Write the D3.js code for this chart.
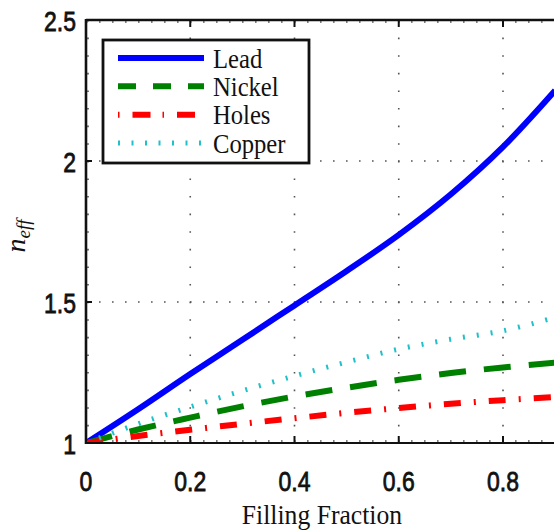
<!DOCTYPE html>
<html>
<head>
<meta charset="utf-8">
<script src="https://cdn.jsdelivr.net/npm/d3@7"></script>
<style>
body { margin: 0; background: #fff; }
svg { display: block; }
</style>
</head>
<body>
<div></div>
<script>
var width = 554;
var height = 531;

// filling fraction and effective index
var fill = [0, 0.1, 0.2, 0.3, 0.4, 0.5, 0.6, 0.7, 0.8, 0.9];
var lead = [1, 1.12, 1.245, 1.366, 1.488, 1.61, 1.738, 1.882, 2.05, 2.25];
var nickel = [1, 1.048, 1.09, 1.13, 1.165, 1.196, 1.224, 1.248, 1.268, 1.285];
var holes = [1, 1.025, 1.047, 1.068, 1.088, 1.107, 1.124, 1.139, 1.152, 1.163];
var copper = [1, 1.068, 1.128, 1.185, 1.238, 1.287, 1.333, 1.368, 1.398, 1.445];

var seriesNames = ["Lead", "Nickel", "Holes", "Copper"];
var seriesValues = [lead, nickel, holes, copper];
var xTicks = [0, 0.2, 0.4, 0.6, 0.8, 1];
var yTicks = [1, 1.5, 2, 2.5];

var styles = [
    { color: "#0000ff", w: 6, dash: null, legendDash: null },
    { color: "#008000", w: 6, dash: "27,18", legendDash: "18,17" },
    { color: "#ff0000", w: 6, dash: "17,13,2,13", legendDash: "1.5,13,18,12" },
    { color: "#20c0c8", w: 5, dash: "2,12", legendDash: "2,11.5" }
];

// note: "top" is a reserved window property, so use other names
var plotLeft = 86, plotTop = 20, plotBottom = 443;
var x = d3.scaleLinear().domain([0, 1]).range([plotLeft, plotLeft + 521.25]);
var y = d3.scaleLinear().domain([1, 2.5]).range([plotBottom, plotTop]);

var svg = d3.select("div")
    .append("svg")
    .attr("width", width)
    .attr("height", height);

svg.append("clipPath").attr("id", "plot")
    .append("rect")
    .attr("x", plotLeft).attr("y", plotTop)
    .attr("width", width - plotLeft).attr("height", plotBottom - plotTop);

// dotted grid
var grid = svg.append("g").attr("stroke", "#555").attr("stroke-width", 1.6);
xTicks.forEach(function (t) {
    var px = t === 0 ? x(t) + 2 : x(t);
    grid.append("line")
        .attr("x1", px).attr("x2", px)
        .attr("y1", plotTop).attr("y2", plotBottom)
        .attr("stroke-dasharray", "1.6,16");
});
yTicks.forEach(function (t) {
    var py = t === 2.5 ? y(t) + 2 : (t === 1 ? y(t) - 2 : y(t));
    grid.append("line")
        .attr("x1", plotLeft).attr("x2", width)
        .attr("y1", py).attr("y2", py)
        .attr("stroke-dasharray", "1.6,11.4");
});

// curves
var line = d3.line()
    .x(function (d, i) { return x(fill[i]); })
    .y(function (d) { return y(d); })
    .curve(d3.curveCatmullRom);

var curves = svg.append("g").attr("clip-path", "url(#plot)");
seriesValues.forEach(function (vals, i) {
    var s = styles[i];
    var p = curves.append("path")
        .attr("d", line(vals))
        .attr("fill", "none")
        .attr("stroke", s.color)
        .attr("stroke-width", s.w);
    if (s.dash) p.attr("stroke-dasharray", s.dash);
});

// axes box
var axes = svg.append("g").attr("stroke", "#111").attr("fill", "none");
axes.append("line").attr("x1", plotLeft).attr("x2", width).attr("y1", plotTop).attr("y2", plotTop).attr("stroke-width", 2.6);
axes.append("line").attr("x1", plotLeft).attr("x2", width).attr("y1", plotBottom).attr("y2", plotBottom).attr("stroke-width", 2.2);
axes.append("line").attr("x1", plotLeft).attr("x2", plotLeft).attr("y1", plotTop - 1).attr("y2", plotBottom + 1).attr("stroke-width", 2.6);

xTicks.forEach(function (t) {
    axes.append("line").attr("x1", x(t)).attr("x2", x(t)).attr("y1", plotBottom).attr("y2", plotBottom - 7).attr("stroke-width", 2);
    axes.append("line").attr("x1", x(t)).attr("x2", x(t)).attr("y1", plotTop).attr("y2", plotTop + 7).attr("stroke-width", 2);
});
yTicks.forEach(function (t) {
    axes.append("line").attr("x1", plotLeft).attr("x2", plotLeft + 6).attr("y1", y(t)).attr("y2", y(t)).attr("stroke-width", 2);
});

// tick labels
var tickFont = "'Liberation Sans', Arial, sans-serif";
svg.append("g").selectAll("text")
    .data(xTicks.filter(function (t) { return x(t) < width; }))
    .join("text")
    .attr("transform", function (d) { return "translate(" + x(d) + ",491) scale(0.82,1)"; })
    .attr("text-anchor", "middle")
    .attr("font-family", tickFont)
    .attr("font-size", 28)
    .attr("fill", "#111")
    .attr("stroke", "#111").attr("stroke-width", 0.8)
    .text(function (d) { return d3.format("")(d); });

svg.append("g").selectAll("text")
    .data(yTicks)
    .join("text")
    .attr("transform", function (d) { return "translate(76," + (y(d) + 11) + ") scale(0.82,1)"; })
    .attr("text-anchor", "end")
    .attr("font-family", tickFont)
    .attr("font-size", 28)
    .attr("fill", "#111")
    .attr("stroke", "#111").attr("stroke-width", 0.8)
    .text(function (d) { return d3.format("")(d); });

// axis titles
var serif = "'Liberation Serif', 'DejaVu Serif', serif";
svg.append("text")
    .attr("transform", "translate(322,524) scale(0.95,1)")
    .attr("text-anchor", "middle")
    .attr("font-family", serif)
    .attr("font-size", 27)
    .attr("fill", "#111")
    .text("Filling Fraction");

var yl = svg.append("text")
    .attr("transform", "translate(25,236) rotate(-90)")
    .attr("text-anchor", "middle")
    .attr("font-family", serif)
    .attr("font-style", "italic")
    .attr("fill", "#111");
yl.append("tspan").attr("font-size", 28).text("n");
yl.append("tspan").attr("font-size", 19).attr("dy", 5).text("eff");

// legend
var legend = svg.append("g");
legend.append("rect")
    .attr("x", 103).attr("y", 40)
    .attr("width", 206).attr("height", 123)
    .attr("fill", "#fff")
    .attr("stroke", "#111")
    .attr("stroke-width", 2.8);

var rowY = d3.scalePoint().domain(seriesNames).range([58, 143]);
seriesNames.forEach(function (name, i) {
    var s = styles[i];
    var l = legend.append("line")
        .attr("x1", 118).attr("x2", 204)
        .attr("y1", rowY(name)).attr("y2", rowY(name))
        .attr("stroke", s.color)
        .attr("stroke-width", s.w);
    if (s.legendDash) l.attr("stroke-dasharray", s.legendDash);
    legend.append("text")
        .attr("transform", "translate(213," + (rowY(name) + 9.5) + ") scale(0.88,1)")
        .attr("font-family", serif)
        .attr("font-size", 28)
        .attr("fill", "#111")
        .text(name);
});
</script>
</body>
</html>
